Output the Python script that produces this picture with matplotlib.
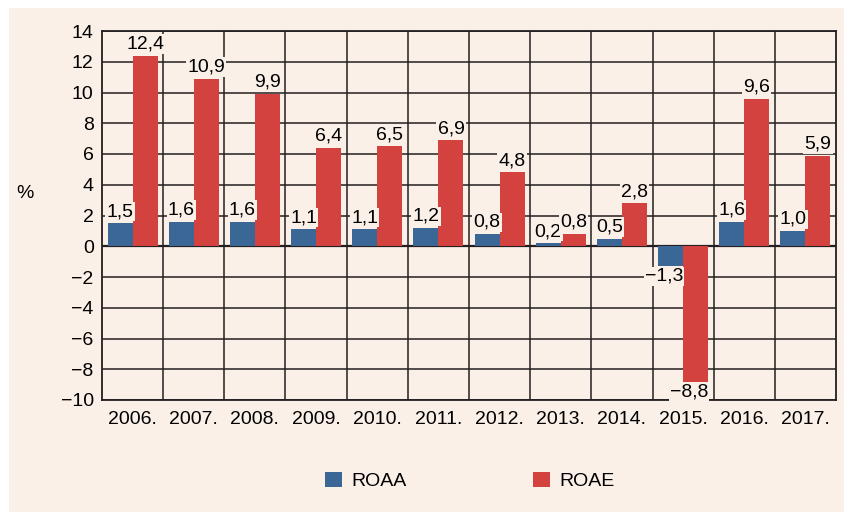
import numpy as np
import matplotlib
matplotlib.use('Agg')
import matplotlib.pyplot as plt
from matplotlib.patches import Rectangle, Patch

plt.rcParams['font.family'] = ['Liberation Sans', 'DejaVu Sans']
plt.rcParams['axes.unicode_minus'] = True

years = ['2006.', '2007.', '2008.', '2009.', '2010.', '2011.',
         '2012.', '2013.', '2014.', '2015.', '2016.', '2017.']
roaa = [1.5, 1.6, 1.6, 1.1, 1.1, 1.2, 0.8, 0.2, 0.5, -1.3, 1.6, 1.0]
roae = [12.4, 10.9, 9.9, 6.4, 6.5, 6.9, 4.8, 0.8, 2.8, -8.8, 9.6, 5.9]

cream = '#fbf0e8'
blue = '#3b6796'
red = '#d3423f'
dark = '#231f20'
fs = 14

fig = plt.figure(figsize=(8.45, 5.12), dpi=100, facecolor='white')
fig.patches.append(Rectangle((9 / 845, 0), 1, 504 / 512, transform=fig.transFigure,
                             facecolor=cream, edgecolor='none', zorder=-10))
ax = fig.add_axes([102 / 845, 112 / 512, 734 / 845, 369 / 512])
ax.set_facecolor(cream)

x = np.arange(len(years))
w = 0.41
ax.bar(x - w / 2, roaa, w, color=blue, zorder=2)
ax.bar(x + w / 2, roae, w, color=red, zorder=2)


def fmt(v):
    s = f'{abs(v):.1f}'.replace('.', ',')
    return ('\u2212' + s) if v < 0 else s


box = dict(facecolor=cream, edgecolor='none', pad=0.8)
for xi, a, e in zip(x, roaa, roae):
    for xc, v in [(xi - w / 2, a), (xi + w / 2, e)]:
        if v >= 0:
            ax.text(xc, v + 0.2, fmt(v), ha='center', va='bottom',
                    fontsize=fs, color='black', bbox=box, zorder=3)
        else:
            ax.text(xc + w / 2, v - 0.1, fmt(v), ha='right', va='top',
                    fontsize=fs, color='black', bbox=box, zorder=3)

ax.set_xlim(-0.5, len(years) - 0.5)
ax.set_ylim(-10, 14)
ax.set_yticks(np.arange(-10, 15, 2))
ax.set_yticklabels([('\u2212' + str(-t)) if t < 0 else str(t) for t in range(-10, 15, 2)])
ax.set_xticks(x)
ax.set_xticklabels(years)
ax.set_xticks(np.arange(0.5, len(years) - 1, 1), minor=True)
ax.tick_params(axis='both', which='both', length=0, labelsize=fs, colors='black')
ax.tick_params(axis='x', pad=8)
ax.tick_params(axis='y', pad=6)
ax.grid(True, axis='y', which='major', color=dark, lw=1.1)
ax.grid(True, axis='x', which='minor', color=dark, lw=1.1)
ax.set_axisbelow(True)
for sp in ax.spines.values():
    sp.set_color(dark)
    sp.set_linewidth(1.3)
ax.axhline(0, color=dark, lw=1.6, zorder=1)

fig.text(25 / 845, 1 - 193 / 512, '%', fontsize=fs, ha='center', va='center')

handles = [Patch(facecolor=blue, label='ROAA'), Patch(facecolor=red, label='ROAE')]
fig.legend(handles=handles, loc='center', bbox_to_anchor=(470 / 845, 1 - 481 / 512),
           ncol=2, frameon=False, fontsize=fs, handlelength=0.85, handleheight=0.85,
           handletextpad=0.5, columnspacing=6.5)

fig.savefig('out.png', dpi=100, facecolor=fig.get_facecolor())
